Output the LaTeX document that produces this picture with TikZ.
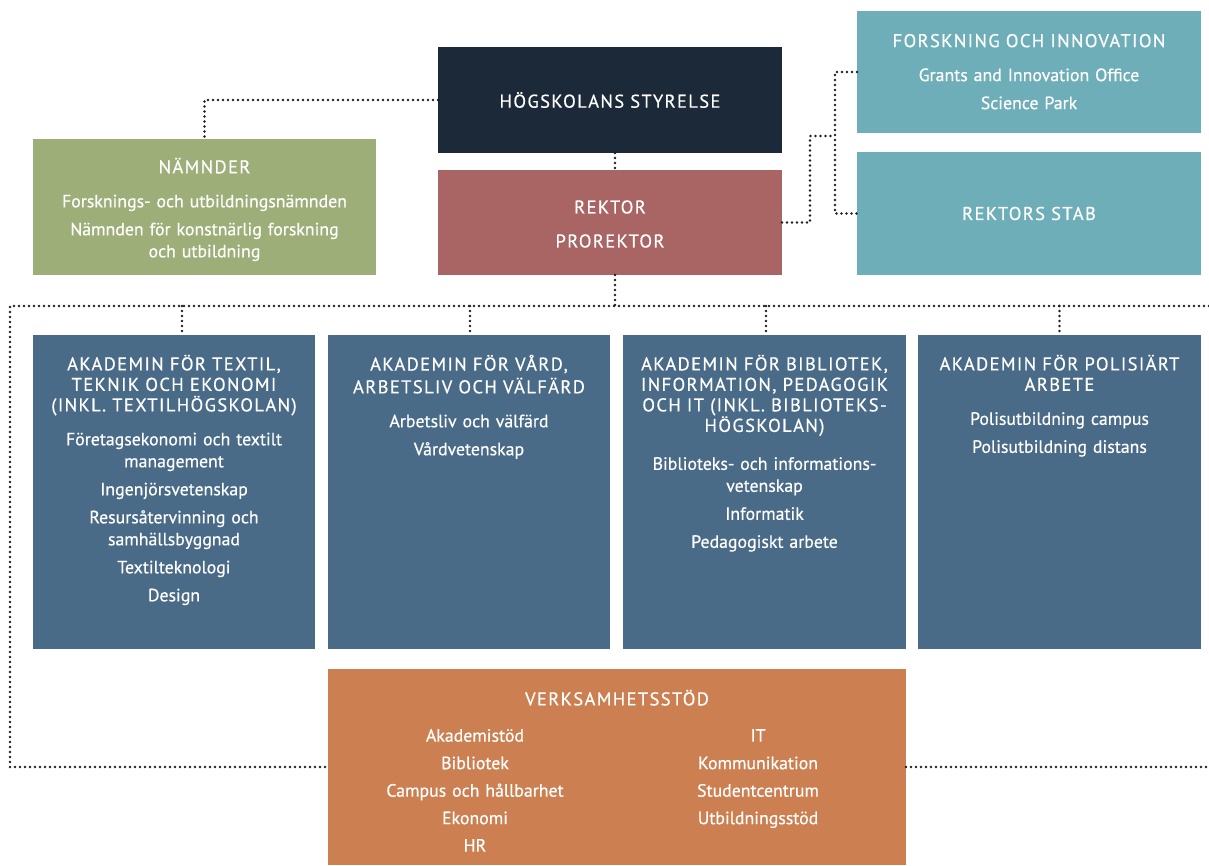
\documentclass[tikz,border=0pt]{standalone}
\usepackage{fontspec}
\setmainfont{PT Sans}
\newfontfamily\hfont[LetterSpace=7.5,FakeBold=0.5]{PT Sans}
\newfontfamily\bfont[FakeBold=0.5]{PT Sans}
\definecolor{navy}{HTML}{1B2939}
\definecolor{rek}{HTML}{A96464}
\definecolor{grn}{HTML}{9EAE79}
\definecolor{teal}{HTML}{6EAEB8}
\definecolor{acad}{HTML}{4A6B88}
\definecolor{orng}{HTML}{CC8052}
\definecolor{dotc}{HTML}{1E1E1E}
\begin{document}
\begin{tikzpicture}[x=1pt,y=-1pt,
  box/.style={inner sep=0, outer sep=0, draw=none, minimum width=#1},
  hd/.style={font=\hfont\fontsize{18.5}{20.5}\selectfont, text=white, align=center, inner sep=0, text width=290},
  bd/.style={font=\bfont\fontsize{17.8}{22}\selectfont, text=white, align=center, inner sep=0, text width=290},
  conn/.style={draw=dotc, line width=2.8pt, line cap=round, dash pattern=on 0pt off 5pt}]
\useasboundingbox (0,0) rectangle (1209,865);
\fill[white] (0,0) rectangle (1209,865);

% boxes
\node[box=344, minimum height=106, fill=navy] (styr) at (610,100) {};
\node[box=344, minimum height=105, fill=rek] (rek) at (610,222.5) {};
\node[box=343, minimum height=136, fill=grn] (namn) at (204.5,207) {};
\node[box=344, minimum height=122, fill=teal] (fo) at (1029,72) {};
\node[box=344, minimum height=123, fill=teal] (stab) at (1029,213.5) {};
\node[box=282, minimum height=314, fill=acad] (a1) at (174,492) {};
\node[box=282, minimum height=314, fill=acad] (a2) at (469,492) {};
\node[box=283, minimum height=314, fill=acad] (a3) at (764.5,492) {};
\node[box=283, minimum height=314, fill=acad] (a4) at (1059.5,492) {};
\node[box=578, minimum height=196, fill=orng] (verk) at (617,767) {};

% texts
\node[hd] (styrT) at (styr) {HÖGSKOLANS STYRELSE};
\node[hd] (rekT) at ([yshift=-1.5]rek.center) {REKTOR\\[13.5pt]PROREKTOR};
\node[hd] (stabT) at (stab) {REKTORS STAB};

\node[hd, anchor=north] (namnH) at (204.5,157.6) {\strut NÄMNDER\strut};
\node[bd, anchor=north, yshift=-12] (namnB) at (namnH.south) {\strut Forsknings- och utbildningsnämnden\\[6pt]Nämnden för konstnärlig forskning\\och utbildning};

\node[hd, anchor=north] (foH) at (1029,32.6) {\strut FORSKNING OCH INNOVATION\strut};
\node[bd, anchor=north, yshift=-12] (foB) at (foH.south) {\strut Grants and Innovation Office\\[6pt]Science Park};

\node[hd, anchor=north] (a1H) at (174,354.6) {\strut AKADEMIN FÖR TEXTIL,\\TEKNIK OCH EKONOMI\\(INKL. TEXTILHÖGSKOLAN)\strut};
\node[bd, anchor=north, yshift=-12] (a1B) at (a1H.south) {\strut Företagsekonomi och textilt\\management\\[6pt]Ingenjörsvetenskap\\[6pt]Resursåtervinning och\\samhällsbyggnad\\[6pt]Textilteknologi\\[6pt]Design};

\node[hd, anchor=north] (a2H) at (469,354.6) {\strut AKADEMIN FÖR VÅRD,\\ARBETSLIV OCH VÄLFÄRD\strut};
\node[bd, anchor=north, yshift=-12] (a2B) at (a2H.south) {\strut Arbetsliv och välfärd\\[6pt]Vårdvetenskap};

\node[hd, anchor=north] (a3H) at (764.5,354.6) {\strut AKADEMIN FÖR BIBLIOTEK,\\INFORMATION, PEDAGOGIK\\OCH IT (INKL. BIBLIOTEKS-\\HÖGSKOLAN)\strut};
\node[bd, anchor=north, yshift=-16] (a3B) at (a3H.south) {\strut Biblioteks- och informations-\\vetenskap\\[6pt]Informatik\\[6pt]Pedagogiskt arbete};

\node[hd, anchor=north] (a4H) at (1059.5,354.6) {\strut AKADEMIN FÖR POLISIÄRT\\ARBETE\strut};
\node[bd, anchor=north, yshift=-12] (a4B) at (a4H.south) {\strut Polisutbildning campus\\[6pt]Polisutbildning distans};

\node[hd, anchor=north] (verkH) at (617,689.6) {\strut VERKSAMHETSSTÖD\strut};
\node[bd, font=\bfont\fontsize{17.8}{27.5}\selectfont, text width=220, anchor=north] (verkL) at (475,722.2) {\strut Akademistöd\\Bibliotek\\Campus och hållbarhet\\Ekonomi\\HR};
\node[bd, font=\bfont\fontsize{17.8}{27.5}\selectfont, text width=220, anchor=north] (verkR) at (758,722.2) {\strut IT\\Kommunikation\\Studentcentrum\\Utbildningsstöd};

% connector coordinates
\coordinate (busL) at (10,306);
\coordinate (busR) at (1209,306);
\coordinate (botL) at (10,767);
\coordinate (botR) at (1209,767);
\coordinate (j1) at (810,136);
\coordinate (jx) at (835,136);

% connectors
\draw[conn] (styr.west) -| (namn.north);
\draw[conn] ([xshift=5]styr.south) -- ([xshift=5]rek.north);
\draw[conn] ([xshift=5]rek.south) -- ([xshift=5]rek.south |- busL);
\draw[conn] (busR) -- (busL) -- (botL) -- (verk.west);
\draw[conn] (verk.east) -- (botR);
\draw[conn] ([xshift=8]a1.north |- busL) -- ([xshift=8]a1.north);
\draw[conn] ([xshift=1]a2.north |- busL) -- ([xshift=1]a2.north);
\draw[conn] ([xshift=1.5]a3.north |- busL) -- ([xshift=1.5]a3.north);
\draw[conn] (a4.north |- busL) -- (a4.north);
\draw[conn] (rek.east) -| (j1) -- (jx);
\draw[conn] (fo.west) -- (fo.west -| jx) -- (stab.west -| jx) -- (stab.west);
\end{tikzpicture}
\end{document}
